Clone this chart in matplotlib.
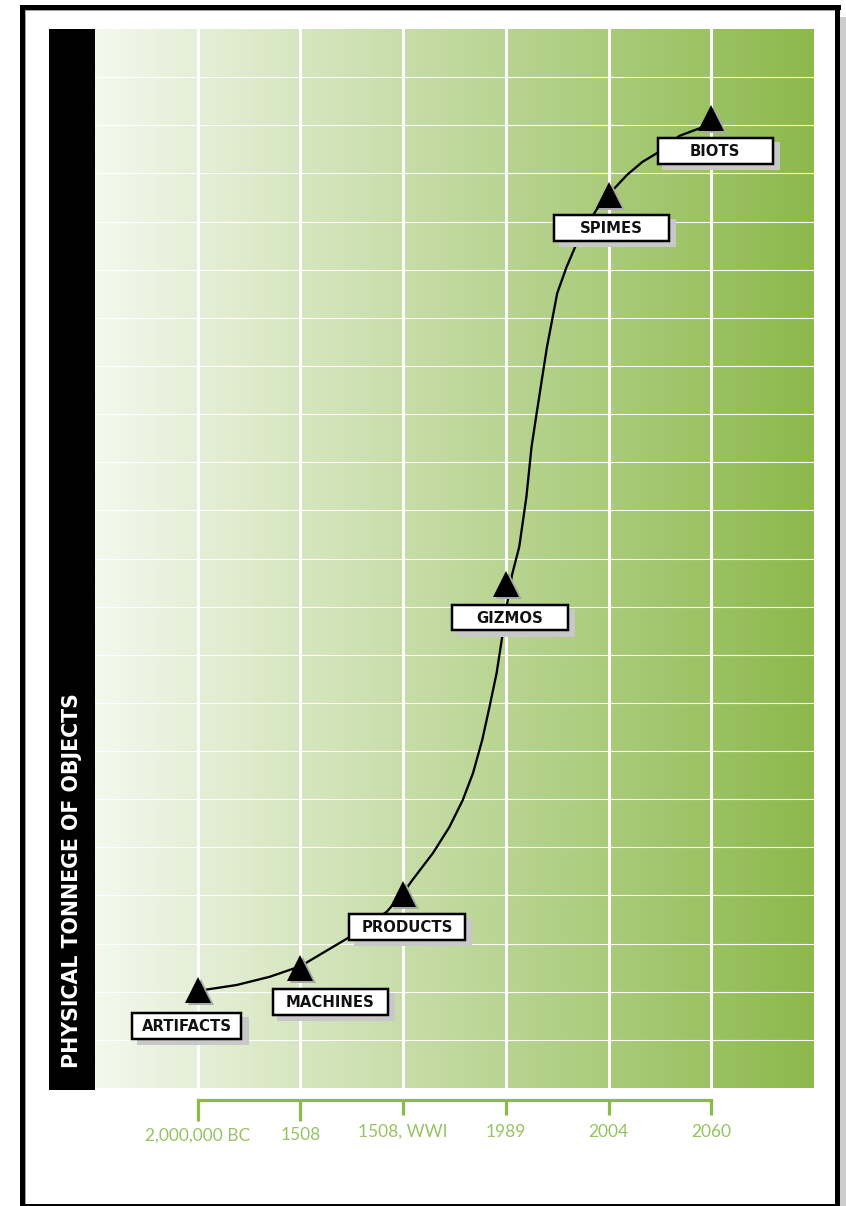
import matplotlib
matplotlib.use('Agg')
import matplotlib.pyplot as plt
import numpy as np
from matplotlib.patches import Rectangle
from matplotlib.colors import LinearSegmentedColormap
import matplotlib.transforms as mtransforms

# ---------------- data ----------------
eras = ['ARTIFACTS', 'MACHINES', 'PRODUCTS', 'GIZMOS', 'SPIMES', 'BIOTS']
era_x = [1, 2, 3, 4, 5, 6]
era_y = [2.04, 2.49, 4.03, 10.47, 18.55, 20.15]
tick_labels = ['2,000,000 BC', '1508', '1508, WWI', '1989', '2004', '2060']
curve_x = [1.00, 1.07, 1.38, 1.70, 2.00, 2.45, 2.84, 3.00, 3.09, 3.29,
           3.45, 3.58, 3.68, 3.77, 3.84, 3.91, 3.96, 4.01, 4.06, 4.13,
           4.20, 4.25, 4.30, 4.35, 4.40, 4.45, 4.50, 4.59, 4.69, 4.88,
           5.00, 5.04, 5.18, 5.33, 5.47, 5.69, 5.89, 6.00]
curve_y = [2.04, 2.04, 2.14, 2.31, 2.53, 3.10, 3.66, 4.05, 4.32, 4.88,
           5.42, 5.98, 6.54, 7.23, 7.91, 8.62, 9.31, 10.03, 10.66, 11.24,
           12.28, 13.32, 14.02, 14.71, 15.39, 15.95, 16.51, 17.05, 17.55, 18.24,
           18.55, 18.65, 18.97, 19.24, 19.42, 19.78, 19.94, 20.15]
y_label = 'PHYSICAL TONNEGE OF OBJECTS'

# ---------------- layout / style ----------------
W, H, DPI = 846, 1206, 100
GREEN = '#8cbb4a'
LBL = '#98c262'
PT = 72.0 / DPI  # points per pixel

fig = plt.figure(figsize=(W / DPI, H / DPI), dpi=DPI)
fig.patch.set_facecolor('white')


def px_axes(x0, y0, x1, y1):
    return [x0 / W, 1 - y1 / H, (x1 - x0) / W, (y1 - y0) / H]


# background / frame
bg = fig.add_axes([0, 0, 1, 1])
bg.set_xlim(0, W)
bg.set_ylim(H, 0)
bg.axis('off')
frame = [(20, 5, 5, 1201, 'black'), (20, 5, 821, 5, 'black'),
         (835, 5, 5, 1201, 'black'), (20, 1204, 821, 2, 'black'),
         (840, 17, 6, 1189, '#cccccc'),
         (25, 10, 1, 1194, '#a0a0a0'), (25, 10, 810, 1, '#a0a0a0')]
for (x, y, w, h, c) in frame:
    bg.add_patch(Rectangle((x, y), w, h, facecolor=c, edgecolor='none'))
bg.add_patch(Rectangle((49, 29), 46, 1061, facecolor='black', edgecolor='none'))
bg.text(72.5, 1068, y_label, rotation=90, rotation_mode='anchor',
        ha='left', va='center', color='white', fontsize=14.8,
        fontweight='heavy', family='DejaVu Sans')

# main axes
ax = fig.add_axes(px_axes(95, 29, 814, 1088))
grad = np.linspace(0, 1, 512).reshape(1, -1)
cmap = LinearSegmentedColormap.from_list('g', ['#f4f8ee', '#8cb94c'])
ax.imshow(grad, extent=[0, 7, 0, 22], aspect='auto', cmap=cmap, zorder=0,
          interpolation='bilinear')
ax.set_xlim(0, 7)
ax.set_ylim(0, 22)
ax.set_axisbelow(True)

ax.set_yticks(range(1, 22))
ax.tick_params(axis='y', length=0, labelleft=False)
ax.set_xticks(era_x[2:])
ax.set_xticklabels(tick_labels[2:])
ax.set_xticks(era_x[:2], minor=True)
ax.set_xticklabels(tick_labels[:2], minor=True)
ax.grid(axis='x', which='both', color='white', lw=3 * PT)
ax.grid(axis='y', which='major', color='white', lw=1.1 * PT)

for s in ['left', 'top', 'right']:
    ax.spines[s].set_visible(False)
sp = ax.spines['bottom']
sp.set_position(('outward', 11.5 * PT))
sp.set_bounds(1, 6)
sp.set_color(GREEN)
sp.set_linewidth(3.2 * PT)
sp.set_capstyle('projecting')
ax.tick_params(axis='x', which='major', direction='out', length=15 * PT,
               width=3.2 * PT, color=GREEN, labelcolor=LBL, pad=9.5 * PT,
               labelsize=12.5)
ax.tick_params(axis='x', which='minor', direction='out', length=21 * PT,
               width=3.2 * PT, color=GREEN, labelcolor=LBL, pad=7 * PT,
               labelsize=12.5)
for lab in ax.get_xticklabels(which='both'):
    lab.set_family('Lato')
    lab.set_fontweight('normal')
    lab.set_color(LBL)

# curve
ax.plot(curve_x, curve_y, color='black', lw=2.3 * PT, solid_joinstyle='round',
        solid_capstyle='round', zorder=3)

# markers with shadow
shadow_tr = ax.transData + mtransforms.ScaledTranslation(3 / DPI, -2 / DPI,
                                                         fig.dpi_scale_trans)
ax.plot(era_x, era_y, ls='none', marker='^', ms=27 * PT, mew=0,
        color='#a8a8a8', transform=shadow_tr, zorder=4, clip_on=False)
ax.plot(era_x, era_y, ls='none', marker='^', ms=27 * PT, mew=0,
        color='black', zorder=5, clip_on=False)

# label boxes
box_off = [(-11, 36), (30, 34), (4, 33), (4, 33.5), (3, 33), (4, 33)]
box_w = [112, 118, 118, 118, 117, 118]
BOX_H = 28
ident = mtransforms.IdentityTransform()
for name, x, y, (dx, dy), bw in zip(eras, era_x, era_y, box_off, box_w):
    cx, cy = ax.transData.transform((x, y))
    cx += dx
    cy -= dy
    ax.add_patch(Rectangle((cx - bw / 2 + 6, cy - BOX_H / 2 - 5), bw, BOX_H,
                           facecolor='#c8c8c8', edgecolor='none',
                           transform=ident, zorder=6, clip_on=False))
    ax.add_patch(Rectangle((cx - bw / 2 + 1.25, cy - BOX_H / 2 + 1.25),
                           bw - 2.5, BOX_H - 2.5, facecolor='white',
                           edgecolor='black', lw=2.5 * PT,
                           transform=ident, zorder=7, clip_on=False))
    ax.text(cx, cy - 5.2, name, transform=ident, ha='center', va='baseline',
            fontsize=10.7, fontweight='bold', family='DejaVu Sans',
            color='#111111', zorder=8, clip_on=False)

fig.savefig('out.png', dpi=DPI)
